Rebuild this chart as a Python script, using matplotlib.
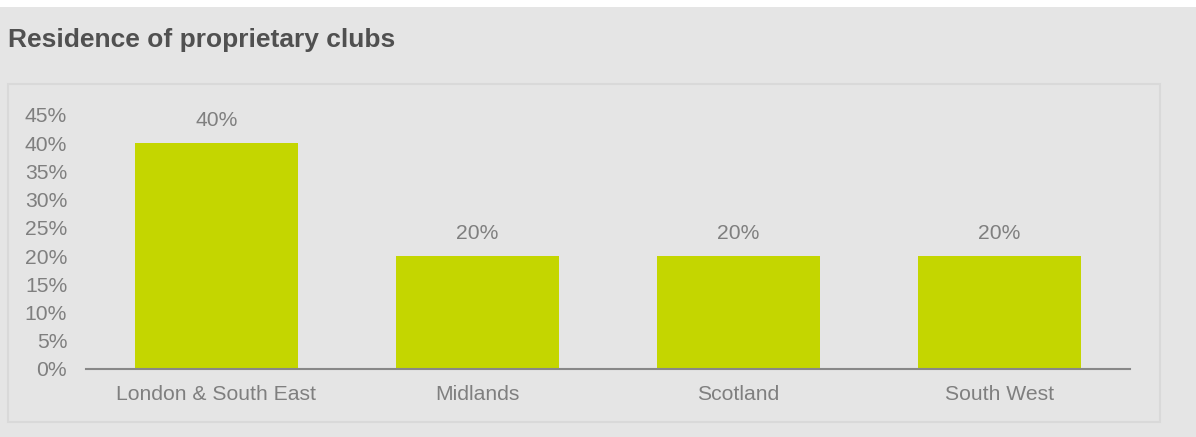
import matplotlib
matplotlib.use("Agg")
import matplotlib.pyplot as plt
from matplotlib.patches import Rectangle

regions = ["London & South East", "Midlands", "Scotland", "South West"]
shares = [40, 20, 20, 20]
y_ticks = [0, 5, 10, 15, 20, 25, 30, 35, 40, 45]

BG = "#e5e5e5"
BAR = "#c4d600"
TXT = "#7f7f7f"
FS = 15.2

plt.rcParams["font.family"] = ["Liberation Sans", "DejaVu Sans"]

fig = plt.figure(figsize=(11.96, 4.37), dpi=100, facecolor="white")
W, H = 1196, 437

# grey panel below the thin white strip, plus the framed inner box
fig.patches.append(Rectangle((0, 0), 1, (H - 7) / H, transform=fig.transFigure,
                             facecolor=BG, edgecolor="none", zorder=-2))
fig.patches.append(Rectangle((8 / W, (H - 422) / H), 1152 / W, 338 / H,
                             transform=fig.transFigure, facecolor=BG,
                             edgecolor="#d9d9d9", linewidth=1.5, zorder=-1))

fig.text(8 / W, 1 - 40 / H, "Residence of proprietary clubs", fontsize=19,
         fontweight="bold", color="#505050", va="center", ha="left")

ax = fig.add_axes([86 / W, 68 / H, 1044 / W, 254 / H])
ax.set_facecolor("none")
x = range(len(regions))
bars = ax.bar(x, shares, width=0.625, color=BAR)
for b, v in zip(bars, shares):
    ax.annotate(f"{v}%", (b.get_x() + b.get_width() / 2, v), xytext=(0, 16),
                textcoords="offset points", ha="center", va="center",
                fontsize=FS, color=TXT)

ax.set_xlim(-0.5, len(regions) - 0.5)
ax.set_ylim(0, 45)
ax.set_yticks(y_ticks)
ax.set_yticklabels([f"{t}%" for t in y_ticks])
ax.set_xticks(list(x))
ax.set_xticklabels(regions)
ax.tick_params(axis="y", length=0, pad=13.5, labelsize=FS, labelcolor=TXT)
ax.tick_params(axis="x", length=0, pad=11.5, labelsize=FS, labelcolor=TXT)
for s in ["top", "right", "left"]:
    ax.spines[s].set_visible(False)
ax.spines["bottom"].set_color("#888888")
ax.spines["bottom"].set_linewidth(1.5)

fig.savefig("out.png", dpi=100, facecolor="white")
